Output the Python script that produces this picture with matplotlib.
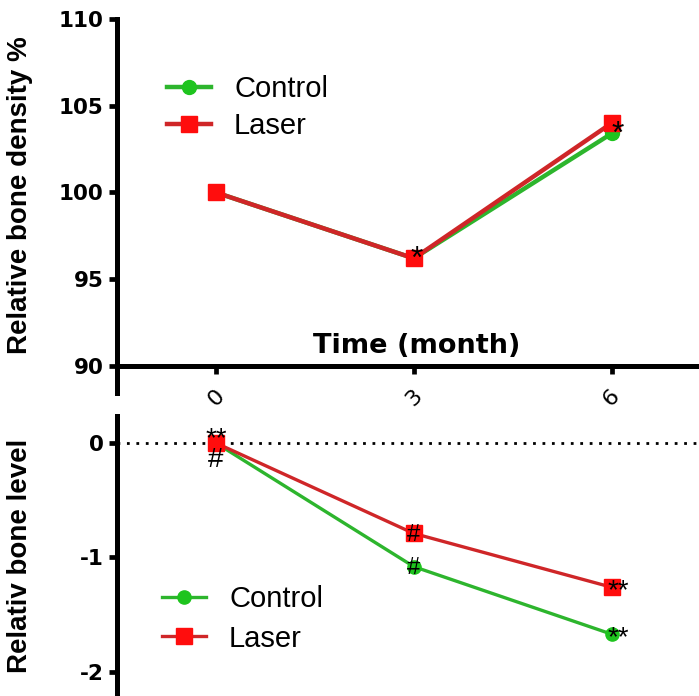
import matplotlib
matplotlib.use("Agg")
import matplotlib.pyplot as plt

# data
months = [0, 3, 6]
density_control = [100.0, 96.2, 103.4]
density_laser = [100.0, 96.2, 104.0]
level_control = [0.0, -1.08, -1.67]
level_laser = [0.0, -0.79, -1.26]

density_ticks = [90, 95, 100, 105, 110]
level_ticks = [0, -1, -2]

# significance marks: (series, index, text)
density_marks = [("laser", 1, "*"), ("control", 2, "*")]
level_marks = [("laser", 0, "**\n#"),
               ("laser", 1, "#"), ("control", 1, "#"),
               ("laser", 2, "**"), ("control", 2, "**")]

plt.rcParams["font.family"] = ["Liberation Sans", "DejaVu Sans"]

GREEN_LINE = "#2db52d"
GREEN_MARK = "#1ec41e"
RED_LINE = "#cf2628"
RED_MARK = "#ff0d0d"

W, H = 699, 696
fig = plt.figure(figsize=(W / 100, H / 100), dpi=100)

left = 117 / W
ax1 = fig.add_axes([left, (H - 393) / H, 1 - left + 0.01, (393 - 19) / H])
ax2 = fig.add_axes([left, 0, 1 - left + 0.01, (H - 416) / H])

tickfont = dict(family="DejaVu Sans", weight="bold", size=15.5)


def style_axes(ax):
    for s in ["top", "right"]:
        ax.spines[s].set_visible(False)
    for s in ["left", "bottom"]:
        ax.spines[s].set_linewidth(3.6)
    ax.tick_params(axis="both", length=6, width=3.4, direction="out")
    ax.set_xlim(-1.5, 7.43)


# ---- top panel: density ----
ax1.spines["bottom"].set_position(("data", 90))
style_axes(ax1)
ax1.plot(months, density_control, color=GREEN_LINE, lw=3.2, marker="o",
         ms=10, mfc=GREEN_MARK, mec=GREEN_MARK, label="Control", zorder=3)
ax1.plot(months, density_laser, color=RED_LINE, lw=3.2, marker="s",
         ms=11.5, mfc=RED_MARK, mec=RED_MARK, label="Laser", zorder=4)
ax1.set_ylim(88.44, 110)
ax1.set_yticks(density_ticks)
ax1.set_yticklabels([str(t) for t in density_ticks], **tickfont)
ax1.set_xticks(months)
ax1.set_xticklabels([str(m) for m in months], rotation=45, ha="center",
                    va="center", family="DejaVu Sans", fontsize=16)
ax1.tick_params(axis="x", pad=17)
ax1.set_ylabel("Relative bone density %", fontsize=20, weight="bold")
ax1.yaxis.set_label_coords(-0.142, 0.53)
ax1.text(0.509, 0.107, "Time (month)", transform=ax1.transAxes,
         ha="center", va="baseline", family="DejaVu Sans", weight="bold",
         fontsize=19.5)

series1 = {"control": density_control, "laser": density_laser}
for name, i, txt in density_marks:
    dx, dy = (2, -1) if i == 1 else (4, -1)
    ax1.annotate(txt, (months[i], series1[name][i]), xytext=(dx, dy),
                 textcoords="offset points", ha="center", va="center",
                 fontsize=23, zorder=6)

ax1.legend(loc="upper left", bbox_to_anchor=(167 / W, 1 - 75 / H),
           bbox_transform=fig.transFigure, frameon=False, fontsize=21,
           handlelength=1.5, handletextpad=0.8, labelspacing=0.3,
           borderpad=0, borderaxespad=0)

# ---- bottom panel: level ----
style_axes(ax2)
ax2.axhline(0, color="black", lw=2.0, ls=(0, (1, 2.4)), zorder=1)
ax2.plot(months, level_control, color=GREEN_LINE, lw=2.4, marker="o",
         ms=9.5, mfc=GREEN_MARK, mec=GREEN_MARK, label="Control", zorder=3)
ax2.plot(months, level_laser, color=RED_LINE, lw=2.4, marker="s",
         ms=11, mfc=RED_MARK, mec=RED_MARK, label="Laser", zorder=4)
ax2.set_ylim(-2.21, 0.236)
ax2.set_yticks(level_ticks)
ax2.set_yticklabels([str(t) for t in level_ticks], **tickfont)
ax2.set_xticks([])
ax2.spines["bottom"].set_visible(False)
ax2.set_ylabel("Relativ bone level", fontsize=20, weight="bold")
ax2.yaxis.set_label_coords(-0.142, 0.5)

series2 = {"control": level_control, "laser": level_laser}
offsets = {(0, "**\n#"): (0, -5), (1, "#"): (0, -1), (2, "**"): (5, -3)}
for name, i, txt in level_marks:
    dx, dy = offsets.get((i, txt), (0, 0))
    size = 17 if txt == "#" else 20
    ax2.annotate(txt, (months[i], series2[name][i]), xytext=(dx, dy),
                 textcoords="offset points", ha="center", va="center",
                 ma="center", linespacing=0.75, fontsize=size, zorder=6)

ax2.legend(loc="upper left", bbox_to_anchor=(162 / W, 1 - 585 / H),
           bbox_transform=fig.transFigure, frameon=False, fontsize=21,
           handlelength=1.5, handletextpad=0.8, labelspacing=0.4,
           borderpad=0, borderaxespad=0)

fig.savefig("out.png", dpi=100)
